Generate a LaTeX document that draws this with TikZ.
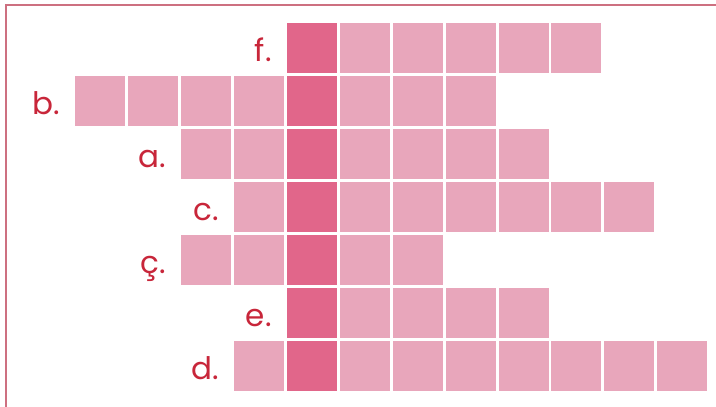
\documentclass[tikz,border=0pt]{standalone}
\usepackage{fontspec}
\setmainfont{Poppins}
\definecolor{cellpink}{RGB}{232,166,187}
\definecolor{keypink}{RGB}{225,102,138}
\definecolor{labelred}{RGB}{200,38,58}
\definecolor{framered}{RGB}{205,112,128}
\usetikzlibrary{positioning,calc}

\begin{document}
\begin{tikzpicture}[x=1pt, y=-1pt,
  cell/.style={rectangle, fill=cellpink, minimum size=50pt, inner sep=0pt, outer sep=0pt},
  keycell/.style={cell, fill=keypink},
  lbl/.style={text=labelred, font=\fontsize{31}{31}\selectfont, inner sep=0pt, anchor=base east}
]
  \useasboundingbox (0,0) rectangle (716,407);
  \fill[white] (0,0) rectangle (716,407);

  % frame (only top and left edges show)
  \coordinate (frameTR) at (716,5);
  \coordinate (frameTL) at (6,5);
  \coordinate (frameBL) at (6,407);
  \draw[framered, line width=1.4pt] (frameTR) -- (frameTL) -- (frameBL);

  % rows: row index / label / first column / last column
  \foreach \r/\name/\txt/\first/\last in {0/f/f./4/9, 1/b/b./0/7, 2/a/a./2/8, 3/c/c./3/10, 4/cc/ç./2/6, 5/e/e./4/8, 6/d/d./3/11}{
    \foreach \k in {\first,...,\last}{
      \ifnum\k=4
        \node[keycell] (\name-\k) at (100.3+\k*52.9, 48.3+\r*52.9) {};
      \else
        \node[cell] (\name-\k) at (100.3+\k*52.9, 48.3+\r*52.9) {};
      \fi
    }
    \node[lbl] (lbl-\name) at ([xshift=-15pt, yshift=-13.5pt]\name-\first.west) {\txt};
  }
\end{tikzpicture}
\end{document}
